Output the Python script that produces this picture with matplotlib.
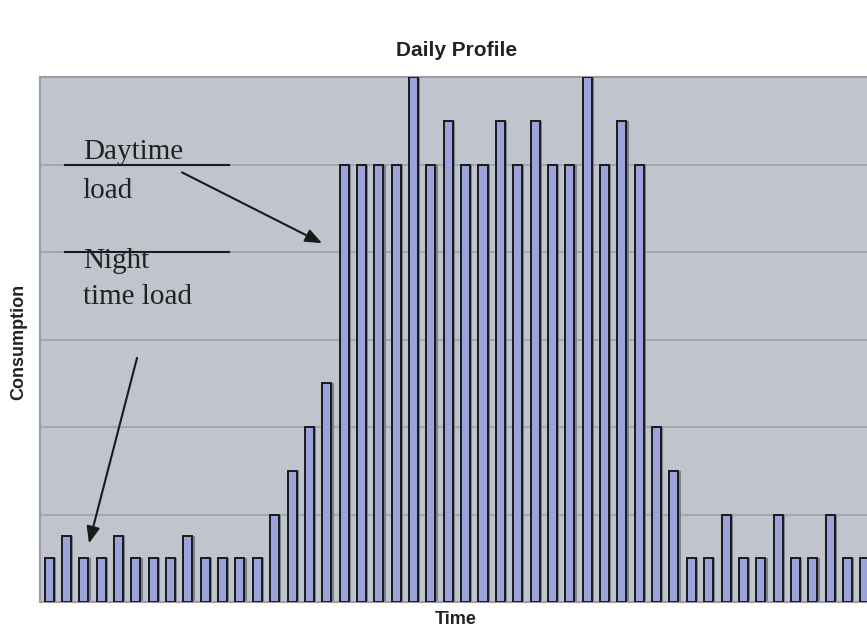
import numpy as np
import matplotlib.pyplot as plt

# half-hour slots over one day, consumption in grid units
slots = np.arange(48)
night_am = [0.5, 0.75, 0.5, 0.5, 0.75, 0.5, 0.5, 0.5, 0.75, 0.5, 0.5, 0.5, 0.5]
ramp_up = [1.0, 1.5, 2.0, 2.5]
daytime = [5, 5, 5, 5, 6, 5, 5.5, 5, 5, 5.5, 5, 5.5, 5, 5, 6, 5, 5.5, 5]
ramp_down = [2.0, 1.5]
night_pm = [0.5, 0.5, 1.0, 0.5, 0.5, 1.0, 0.5, 0.5, 1.0, 0.5, 0.5]
consumption = night_am + ramp_up + daytime + ramp_down + night_pm

fig = plt.figure(figsize=(8.67, 6.32), dpi=100)
ax = fig.add_axes([40 / 867, 30 / 632, 1 - 40 / 867, 525 / 632])
ax.set_facecolor('#c0c4cc')

# soft shadow on the right of each bar, then the bar itself
ax.bar(slots + 0.13, consumption, width=0.52, color='#7c7f8c', zorder=2)
ax.bar(slots, consumption, width=0.52, color='#9ba3da', edgecolor='#1a1a1a',
       linewidth=1.4, zorder=3)

ax.set_xlim(-0.52, 47.12)
ax.set_ylim(0, 6)
ax.set_yticks([1, 2, 3, 4, 5])
ax.set_xticks([])
ax.tick_params(left=False, labelleft=False)
ax.yaxis.grid(True, color='#9a9da4', linewidth=1.1, zorder=1)
ax.set_axisbelow(True)
for s in ax.spines.values():
    s.set_color('#9a9da4')
    s.set_linewidth(1.5)
ax.spines['right'].set_visible(False)

# annotation lines and labels
ax.plot([0.92, 10.37], [5, 5], color='#1a1a1a', linewidth=1.5, zorder=4)
ax.plot([0.92, 10.37], [4, 4], color='#1a1a1a', linewidth=1.5, zorder=4)
serif = dict(family='Liberation Serif', fontsize=21, color='#222222', zorder=5)
ax.text(1.95, 5.06, 'Daytime', ha='left', va='baseline', **serif)
ax.text(1.95, 4.62, 'load', ha='left', va='baseline', **serif)
ax.text(1.95, 3.82, 'Night', ha='left', va='baseline', **serif)
ax.text(1.95, 3.4, 'time load', ha='left', va='baseline', **serif)

arrow = dict(arrowstyle='-|>,head_length=1.0,head_width=0.4', color='#1a1a1a',
             linewidth=1.5, shrinkA=0, shrinkB=0)
ax.annotate('', xy=(15.73, 4.10), xytext=(7.66, 4.91), arrowprops=arrow, zorder=5)
ax.annotate('', xy=(2.30, 0.67), xytext=(5.07, 2.79), arrowprops=arrow, zorder=5)

fig.text(457 / 867, 1 - 51 / 632, 'Daily Profile', ha='center', va='center',
         family='Liberation Sans', fontsize=15, fontweight='bold', color='#222222')
fig.text(456 / 867, 1 - 620 / 632, 'Time', ha='center', va='center',
         family='Liberation Sans', fontsize=13, fontweight='bold', color='#222222')
fig.text(19 / 867, 1 - 342 / 632, 'Consumption', ha='center', va='center',
         rotation=90, family='Liberation Sans', fontsize=13, fontweight='bold',
         color='#222222')

fig.savefig('out.png', dpi=100)
